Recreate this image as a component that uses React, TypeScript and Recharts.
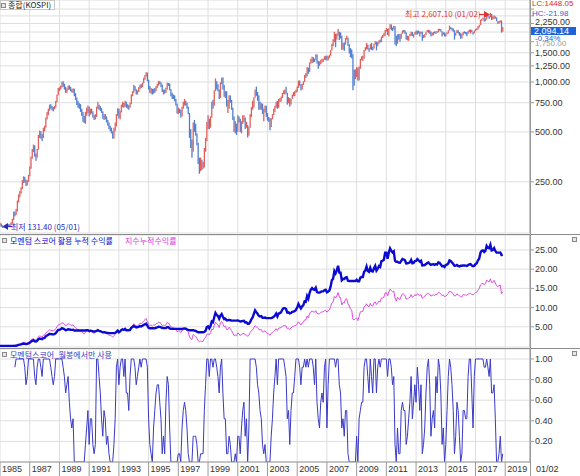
import { ComposedChart, Bar, Line, XAxis, YAxis, CartesianGrid } from "recharts";

const FONT = '"Noto Sans CJK KR", "Noto Sans", sans-serif';
const NUM_FONT = '"Liberation Sans", Arial, sans-serif';
const GRID = "#dedede";
const AXIS = "#9a9a9a";
const UP = "#e2605c";
const DOWN = "#4f7fd2";
const NAVY = "#0a0ad0";
const PINK = "#e04ce0";
const SCORE = "#3a3ac8";

// monthly KOSPI candles, 1985-01 .. 2018-11
const kospiClose = [
  139, 136, 134, 133, 136, 137, 138, 136, 138, 141, 148, 163,
  160, 168, 190, 205, 215, 228, 250, 262, 255, 240, 252, 273,
  305, 350, 385, 410, 365, 355, 390, 470, 495, 480, 465, 525,
  535, 605, 640, 680, 720, 705, 700, 690, 705, 760, 835, 907,
  915, 935, 990, 965, 930, 880, 905, 940, 930, 905, 890, 909,
  830, 800, 750, 730, 720, 680, 650, 620, 570, 640, 680, 696,
  640, 670, 660, 625, 600, 620, 700, 730, 700, 690, 660, 610,
  620, 610, 580, 560, 530, 525, 500, 459, 520, 550, 630, 678,
  620, 660, 720, 740, 720, 760, 710, 720, 710, 740, 830, 866,
  940, 900, 860, 880, 920, 960, 940, 980, 1040, 1090, 1138, 1027,
  930, 880, 900, 855, 900, 890, 940, 960, 1000, 990, 960, 882,
  890, 870, 910, 980, 975, 905, 840, 820, 810, 780, 730, 651,
  680, 670, 630, 700, 740, 760, 740, 700, 650, 470, 410, 376,
  560, 520, 480, 420, 330, 297, 320, 310, 310, 400, 450, 562,
  590, 540, 620, 750, 720, 880, 1000, 940, 900, 800, 970, 1028,
  940, 830, 860, 730, 730, 820, 760, 690, 610, 520, 540, 504,
  610, 580, 520, 570, 590, 600, 540, 545, 480, 530, 630, 693,
  720, 800, 880, 840, 800, 740, 720, 730, 650, 660, 700, 627,
  590, 575, 535, 600, 630, 670, 710, 760, 700, 780, 790, 810,
  850, 880, 880, 860, 770, 785, 735, 790, 835, 845, 870, 896,
  930, 1010, 960, 910, 970, 1000, 1090, 1080, 1220, 1160, 1300, 1379,
  1400, 1370, 1360, 1420, 1320, 1300, 1300, 1350, 1370, 1370, 1420, 1434,
  1360, 1420, 1450, 1550, 1700, 1740, 1930, 1870, 1950, 2065, 1900, 1897,
  1620, 1710, 1700, 1830, 1850, 1670, 1590, 1470, 1450, 1110, 1080, 1124,
  1160, 1060, 1210, 1370, 1390, 1390, 1560, 1590, 1670, 1580, 1560, 1682,
  1600, 1590, 1690, 1740, 1640, 1700, 1760, 1740, 1870, 1880, 1900, 2051,
  2070, 1940, 2100, 2190, 2140, 2100, 2130, 1880, 1770, 1910, 1850, 1826,
  1950, 2030, 2010, 1980, 1840, 1850, 1880, 1910, 2000, 1910, 1930, 1997,
  1960, 2030, 2000, 1960, 2000, 1860, 1910, 1930, 2000, 2030, 2045, 2011,
  1940, 1980, 1985, 1960, 2017, 2002, 2076, 2068, 2020, 1964, 1981, 1916,
  1949, 1985, 2041, 2127, 2114, 2074, 2030, 1941, 1963, 2029, 1991, 1961,
  1912, 1917, 1996, 1994, 1983, 1970, 2016, 2034, 2043, 2008, 1983, 2026,
  2067, 2091, 2160, 2205, 2347, 2392, 2402, 2363, 2394, 2523, 2476, 2467,
  2566, 2427, 2445, 2515, 2423, 2326, 2295, 2322, 2343, 2029, 2094.14,
];

const kospiHigh = [
  142, 140, 137, 136, 138, 139, 140, 139, 140, 143, 150, 165,
  166, 172, 193, 210, 220, 232, 256, 270, 268, 258, 256, 276,
  310, 355, 395, 420, 415, 370, 395, 480, 510, 505, 485, 530,
  545, 610, 660, 690, 730, 735, 715, 705, 715, 770, 840, 920,
  930, 950, 1005, 1007, 975, 935, 915, 950, 955, 935, 905, 915,
  910, 855, 805, 770, 745, 735, 690, 660, 625, 660, 700, 720,
  710, 690, 690, 665, 630, 640, 710, 760, 730, 715, 695, 665,
  640, 640, 620, 590, 570, 545, 530, 505, 530, 570, 640, 695,
  690, 670, 730, 760, 750, 770, 760, 735, 725, 750, 840, 880,
  960, 945, 905, 890, 930, 965, 970, 990, 1060, 1100, 1145, 1140,
  1030, 945, 920, 910, 910, 920, 945, 975, 1016, 1010, 995, 965,
  900, 900, 925, 990, 985, 980, 905, 860, 840, 830, 790, 740,
  700, 690, 680, 710, 760, 790, 770, 750, 710, 650, 520, 450,
  570, 590, 560, 490, 430, 350, 350, 340, 330, 400, 460, 575,
  630, 600, 620, 760, 780, 890, 1050, 1010, 970, 900, 995, 1060,
  1066, 960, 880, 880, 780, 830, 830, 780, 700, 620, 580, 560,
  630, 620, 600, 580, 630, 630, 610, 575, 550, 535, 640, 705,
  770, 810, 900, 937, 870, 830, 760, 745, 740, 690, 720, 720,
  650, 615, 605, 605, 640, 690, 720, 760, 770, 790, 800, 815,
  860, 890, 900, 936, 860, 810, 800, 790, 840, 870, 880, 900,
  940, 1020, 1020, 970, 975, 1010, 1100, 1130, 1230, 1220, 1310, 1380,
  1420, 1410, 1380, 1467, 1465, 1340, 1330, 1360, 1380, 1380, 1430, 1440,
  1440, 1430, 1460, 1560, 1700, 1810, 2005, 1950, 1960, 2085, 2010, 1990,
  1900, 1720, 1730, 1840, 1900, 1850, 1690, 1600, 1570, 1470, 1190, 1190,
  1230, 1220, 1240, 1380, 1430, 1440, 1560, 1620, 1720, 1680, 1600, 1690,
  1720, 1630, 1700, 1760, 1750, 1740, 1780, 1800, 1880, 1920, 1970, 2055,
  2110, 2090, 2110, 2231, 2220, 2130, 2180, 2170, 1900, 1940, 1950, 1940,
  1960, 2040, 2060, 2050, 1990, 1900, 1890, 1950, 2010, 2000, 1940, 2000,
  2040, 2040, 2040, 2010, 2010, 2010, 1920, 1940, 2010, 2060, 2060, 2050,
  2010, 1980, 2000, 2020, 2020, 2020, 2090, 2090, 2080, 2020, 1990, 1990,
  1960, 1990, 2050, 2190, 2140, 2120, 2100, 2050, 1980, 2060, 2050, 2000,
  1970, 1950, 2000, 2020, 2000, 2000, 2030, 2070, 2070, 2060, 2000, 2040,
  2090, 2100, 2170, 2210, 2370, 2400, 2450, 2420, 2420, 2530, 2560, 2490,
  2607.1, 2570, 2490, 2520, 2480, 2450, 2320, 2330, 2350, 2345, 2140,
];

const kospiLow = [
  136, 134, 132, 132, 131.4, 134, 135, 134, 135, 137, 140, 147,
  155, 158, 166, 188, 202, 212, 226, 246, 248, 236, 238, 250,
  270, 300, 345, 378, 355, 335, 350, 390, 460, 455, 440, 460,
  505, 530, 595, 630, 670, 690, 675, 665, 685, 700, 755, 830,
  880, 900, 925, 935, 900, 860, 860, 895, 900, 880, 865, 860,
  820, 780, 725, 700, 690, 660, 625, 575, 566, 560, 625, 650,
  620, 635, 645, 610, 590, 595, 615, 690, 680, 670, 650, 600,
  590, 595, 570, 545, 520, 505, 490, 456, 455, 505, 540, 625,
  605, 595, 655, 705, 700, 710, 700, 690, 680, 700, 735, 820,
  860, 885, 840, 840, 870, 905, 920, 930, 980, 1030, 1080, 1010,
  900, 860, 850, 840, 850, 860, 880, 920, 950, 970, 930, 870,
  840, 850, 860, 900, 945, 890, 820, 790, 790, 765, 720, 645,
  640, 650, 610, 620, 690, 720, 720, 690, 640, 460, 400, 350,
  380, 500, 475, 415, 320, 280, 290, 295, 300, 305, 380, 440,
  520, 520, 530, 610, 690, 720, 880, 900, 880, 790, 800, 970,
  900, 815, 800, 710, 650, 690, 750, 680, 590, 500, 490, 480,
  500, 570, 500, 490, 560, 575, 520, 530, 463, 475, 530, 615,
  680, 700, 805, 825, 770, 680, 680, 680, 640, 580, 655, 615,
  585, 575, 512, 535, 595, 630, 660, 700, 690, 700, 760, 760,
  800, 845, 840, 850, 730, 745, 710, 730, 790, 820, 820, 860,
  870, 920, 950, 890, 900, 960, 1000, 1060, 1080, 1120, 1150, 1290,
  1300, 1310, 1320, 1360, 1290, 1200, 1250, 1280, 1310, 1320, 1360, 1350,
  1350, 1350, 1390, 1440, 1550, 1640, 1740, 1620, 1800, 1900, 1790, 1830,
  1560, 1570, 1540, 1680, 1800, 1650, 1490, 1410, 1390, 892, 950, 1040,
  1070, 1020, 1020, 1200, 1350, 1340, 1380, 1540, 1570, 1570, 1520, 1570,
  1560, 1550, 1590, 1680, 1550, 1640, 1700, 1730, 1740, 1840, 1880, 1900,
  2010, 1920, 1880, 2090, 2050, 2030, 2070, 1680, 1644, 1700, 1800, 1750,
  1820, 1950, 1990, 1950, 1800, 1780, 1770, 1880, 1900, 1890, 1850, 1930,
  1930, 1930, 1960, 1880, 1950, 1770, 1840, 1850, 1920, 2000, 1980, 1950,
  1880, 1900, 1910, 1960, 1950, 1980, 1990, 2040, 2010, 1880, 1930, 1880,
  1880, 1940, 1960, 2040, 2080, 2040, 2010, 1800, 1900, 1970, 1960, 1900,
  1820, 1830, 1910, 1960, 1940, 1890, 1950, 2000, 1960, 2000, 1930, 1970,
  2020, 2050, 2070, 2130, 2200, 2330, 2380, 2310, 2320, 2380, 2470, 2400,
  2450, 2360, 2380, 2400, 2410, 2320, 2240, 2250, 2280, 1985, 2010,
];

// 모멘텀 스코어 활용 누적 수익률
const strategyReturn = [
  0, 0, 0, 0, 0, 0, 0, 0, 0, 0, 0, 0,
  0, 0.05, 0.18, 0.28, 0.34, 0.42, 0.56, 0.63, 0.59, 0.5, 0.56, 0.66,
  0.86, 1.13, 1.35, 1.5, 1.22, 1.17, 1.34, 1.78, 1.92, 1.84, 1.75, 2.05,
  2.11, 2.51, 2.72, 2.95, 3.18, 3.1, 3.07, 3.02, 3.09, 3.35, 3.78, 4.2,
  4.24, 4.36, 4.67, 4.53, 4.35, 4.11, 4.21, 4.36, 4.31, 4.23, 4.19, 4.23,
  4.04, 4.04, 4.04, 4.04, 4.04, 4.04, 4.04, 4.04, 4.04, 4.04, 4.09, 4.13,
  3.93, 3.96, 3.93, 3.82, 3.79, 3.8, 3.91, 4.12, 3.91, 3.85, 3.71, 3.56,
  3.58, 3.54, 3.45, 3.42, 3.36, 3.36, 3.36, 3.36, 3.36, 3.4, 3.67, 4.0,
  3.57, 3.79, 4.19, 4.34, 4.2, 4.44, 4.08, 4.13, 4.08, 4.18, 4.71, 4.96,
  5.2, 5.0, 4.8, 4.9, 5.0, 5.2, 5.1, 5.3, 5.5, 5.6, 5.8, 5.3,
  4.75, 4.62, 4.64, 4.62, 4.62, 4.6, 4.76, 4.84, 5.02, 4.98, 4.88, 4.68,
  4.68, 4.65, 4.67, 4.92, 4.9, 4.58, 4.45, 4.45, 4.45, 4.45, 4.45, 4.45,
  4.45, 4.44, 4.41, 4.41, 4.51, 4.58, 4.5, 4.35, 4.22, 4.1, 4.1, 4.1,
  4.1, 4.01, 3.91, 3.76, 3.59, 3.59, 3.59, 3.58, 3.58, 3.69, 3.98, 4.91,
  5.1, 4.6, 5.2, 6.4, 6.2, 7.5, 8.6, 8.1, 7.8, 7.1, 7.9, 8.3,
  7.6, 7.0, 7.1, 6.7, 6.7, 6.8, 6.7, 6.6, 6.6, 6.6, 6.6, 6.6,
  6.66, 6.57, 6.38, 6.43, 6.52, 6.58, 6.14, 6.17, 5.81, 5.81, 6.23, 6.95,
  7.41, 8.35, 9.28, 8.82, 8.39, 7.86, 7.69, 7.76, 7.35, 7.37, 7.41, 7.26,
  7.26, 7.26, 7.26, 7.26, 7.37, 7.59, 7.93, 8.45, 7.7, 8.45, 8.57, 8.81,
  9.48, 9.86, 9.86, 9.63, 8.7, 8.78, 8.47, 8.59, 8.87, 8.94, 9.14, 9.4,
  9.99, 10.93, 10.33, 9.8, 10.33, 10.66, 11.62, 11.51, 13.01, 12.33, 13.81, 14.71,
  15.09, 14.75, 14.65, 15.17, 14.03, 13.89, 13.89, 14.09, 14.21, 14.21, 14.53, 14.66,
  13.98, 14.2, 14.44, 15.5, 17.09, 17.51, 19.53, 18.89, 19.68, 20.9, 19.14, 19.12,
  17.15, 17.48, 17.43, 17.79, 17.89, 16.98, 16.91, 16.91, 16.91, 16.91, 16.91, 16.91,
  17.22, 16.83, 16.83, 17.82, 17.95, 17.95, 19.3, 19.66, 20.69, 19.52, 19.3, 20.36,
  19.49, 19.38, 20.25, 20.88, 19.63, 20.14, 20.82, 20.57, 22.07, 22.19, 22.44, 24.28,
  24.3, 22.71, 24.32, 25.41, 24.81, 24.37, 24.64, 22.15, 21.92, 21.92, 21.69, 21.67,
  22.18, 22.65, 22.52, 22.34, 21.51, 21.54, 21.63, 21.79, 22.41, 21.54, 21.63, 22.09,
  22.16, 22.64, 22.32, 21.97, 22.21, 21.0, 21.04, 21.08, 21.34, 21.57, 21.73, 21.36,
  21.13, 21.24, 21.27, 21.12, 21.34, 21.2, 21.75, 21.67, 21.19, 20.78, 20.81, 20.58,
  21.11, 21.18, 21.49, 22.28, 22.14, 21.74, 21.38, 20.89, 20.91, 21.1, 20.86, 20.7,
  20.91, 20.91, 20.98, 20.97, 20.91, 20.84, 21.06, 21.23, 21.33, 20.95, 20.77, 20.92,
  21.29, 21.54, 22.29, 22.77, 24.3, 24.78, 24.9, 24.48, 24.78, 26.06, 25.56, 25.47,
  26.34, 24.86, 24.98, 25.49, 24.76, 24.32, 24.32, 24.32, 24.34, 23.7, 23.8,
];

// 지수누적수익률
const indexReturn = [
  0, 0, 0, 0, 0, 0, 0, 0, 0, 0, 0.1, 0.2,
  0.2, 0.2, 0.4, 0.5, 0.5, 0.6, 0.8, 0.9, 0.8, 0.7, 0.8, 1.0,
  1.2, 1.5, 1.8, 1.9, 1.6, 1.6, 1.8, 2.4, 2.6, 2.5, 2.3, 2.8,
  2.8, 3.4, 3.6, 3.9, 4.2, 4.1, 4.0, 4.0, 4.1, 4.5, 5.0, 5.5,
  5.6, 5.7, 6.1, 5.9, 5.7, 5.3, 5.5, 5.8, 5.7, 5.5, 5.4, 5.5,
  5.0, 4.8, 4.4, 4.3, 4.2, 3.9, 3.7, 3.5, 3.1, 3.6, 3.9, 4.0,
  3.6, 3.8, 3.7, 3.5, 3.3, 3.5, 4.0, 4.3, 4.0, 4.0, 3.7, 3.4,
  3.5, 3.4, 3.2, 3.0, 2.8, 2.8, 2.6, 2.3, 2.7, 3.0, 3.5, 3.9,
  3.5, 3.7, 4.2, 4.3, 4.2, 4.5, 4.1, 4.2, 4.1, 4.3, 5.0, 5.2,
  5.8, 5.5, 5.2, 5.3, 5.6, 5.9, 5.8, 6.1, 6.5, 6.8, 7.2, 6.4,
  5.7, 5.3, 5.5, 5.2, 5.5, 5.4, 5.8, 5.9, 6.2, 6.1, 5.9, 5.3,
  5.4, 5.3, 5.5, 6.1, 6.0, 5.5, 5.0, 4.9, 4.8, 4.6, 4.3, 3.7,
  3.9, 3.8, 3.5, 4.0, 4.3, 4.5, 4.3, 4.0, 3.7, 2.4, 1.9, 1.7,
  3.0, 2.7, 2.5, 2.0, 1.4, 1.1, 1.3, 1.2, 1.2, 1.9, 2.2, 3.0,
  3.2, 2.9, 3.5, 4.4, 4.2, 5.3, 6.2, 5.8, 5.5, 4.8, 6.0, 6.4,
  5.8, 5.0, 5.2, 4.3, 4.3, 4.9, 4.5, 4.0, 3.4, 2.7, 2.9, 2.6,
  3.4, 3.2, 2.7, 3.1, 3.2, 3.3, 2.9, 2.9, 2.5, 2.8, 3.5, 4.0,
  4.2, 4.8, 5.3, 5.0, 4.8, 4.3, 4.2, 4.3, 3.7, 3.7, 4.0, 3.5,
  3.2, 3.1, 2.8, 3.3, 3.5, 3.8, 4.1, 4.5, 4.0, 4.6, 4.7, 4.8,
  5.1, 5.3, 5.3, 5.2, 4.5, 4.6, 4.3, 4.7, 5.0, 5.1, 5.3, 5.4,
  5.7, 6.3, 5.9, 5.5, 6.0, 6.2, 6.8, 6.8, 7.8, 7.3, 8.4, 8.9,
  9.1, 8.9, 8.8, 9.2, 8.5, 8.4, 8.4, 8.7, 8.9, 8.9, 9.2, 9.3,
  8.8, 9.2, 9.4, 10.2, 11.2, 11.5, 12.9, 12.5, 13.0, 13.9, 12.7, 12.6,
  10.7, 11.3, 11.2, 12.2, 12.3, 11.0, 10.4, 9.6, 9.4, 7.0, 6.8, 7.1,
  7.3, 6.6, 7.7, 8.9, 9.0, 9.0, 10.2, 10.4, 11.0, 10.4, 10.2, 11.1,
  10.5, 10.4, 11.2, 11.5, 10.8, 11.2, 11.7, 11.5, 12.5, 12.5, 12.7, 13.8,
  13.9, 13.0, 14.1, 14.8, 14.4, 14.1, 14.3, 12.5, 11.7, 12.7, 12.3, 12.1,
  13.0, 13.6, 13.5, 13.2, 12.2, 12.3, 12.5, 12.7, 13.4, 12.7, 12.9, 13.4,
  13.1, 13.6, 13.4, 13.1, 13.4, 12.4, 12.7, 12.9, 13.4, 13.6, 13.7, 13.5,
  13.0, 13.2, 13.3, 13.1, 13.5, 13.4, 13.9, 13.9, 13.5, 13.1, 13.3, 12.8,
  13.0, 13.3, 13.7, 14.3, 14.2, 13.9, 13.6, 13.0, 13.1, 13.6, 13.3, 13.1,
  12.8, 12.8, 13.4, 13.3, 13.3, 13.2, 13.5, 13.6, 13.7, 13.4, 13.3, 13.6,
  13.9, 14.0, 14.5, 14.9, 15.9, 16.2, 16.3, 16.0, 16.2, 17.2, 16.8, 16.7,
  17.5, 16.5, 16.6, 17.1, 16.4, 15.7, 15.5, 15.7, 15.9, 13.6, 14.1,
];

// 모멘텀스코어 (first 12 months have no score)
const momentumScore = [
  null, null, null, null, null, null, null, null, null, null, null, null,
  0.92, 1, 1, 1, 1, 1, 1, 1, 0.92, 0.75, 0.83, 1,
  1, 1, 1, 1, 0.83, 0.75, 0.92, 1, 1, 0.92, 0.83, 1,
  1, 1, 1, 1, 1, 0.92, 0.83, 0.75, 0.83, 1, 1, 1,
  1, 1, 1, 0.92, 0.83, 0.67, 0.75, 0.83, 0.58, 0.42, 0.33, 0.42,
  0, 0, 0, 0, 0, 0, 0, 0, 0, 0.17, 0.33, 0.5,
  0.17, 0.42, 0.42, 0.17, 0.08, 0.17, 1, 1, 0.83, 0.67, 0.42, 0.25,
  0.5, 0.42, 0.17, 0.25, 0.08, 0, 0, 0, 0.17, 0.42, 0.92, 1,
  0.75, 0.92, 1, 1, 0.83, 1, 0.67, 0.67, 0.5, 0.83, 1, 1,
  1, 0.92, 0.75, 0.83, 0.92, 1, 0.92, 1, 1, 1, 1, 0.92,
  0.42, 0.17, 0.08, 0, 0.33, 0.5, 0.67, 0.75, 0.75, 0.58, 0.42, 0.08,
  0.25, 0.08, 0.58, 0.83, 0.75, 0.33, 0, 0, 0, 0, 0, 0,
  0.08, 0.08, 0, 0.33, 0.5, 0.58, 0.5, 0.33, 0.08, 0, 0, 0,
  0.25, 0.25, 0.25, 0.17, 0, 0, 0.08, 0.08, 0.08, 0.5, 0.75, 1,
  1, 0.83, 1, 1, 0.92, 1, 1, 0.92, 0.83, 0.67, 0.92, 1,
  0.67, 0.42, 0.42, 0.08, 0.08, 0.25, 0.17, 0, 0, 0, 0.08, 0,
  0.25, 0.25, 0.08, 0.33, 0.5, 0.58, 0.25, 0.42, 0, 0.33, 1, 1,
  1, 1, 1, 0.92, 0.75, 0.67, 0.5, 0.42, 0.17, 0.08, 0.17, 0,
  0, 0, 0, 0.25, 0.42, 0.67, 0.83, 1, 0.75, 1, 1, 1,
  1, 1, 0.92, 0.83, 0.42, 0.5, 0.17, 0.5, 0.67, 0.67, 0.83, 1,
  1, 1, 0.92, 0.75, 0.92, 0.92, 1, 0.92, 1, 0.92, 1, 1,
  1, 0.92, 0.75, 1, 0.58, 0.42, 0.33, 0.58, 0.67, 0.58, 0.92, 1,
  0.33, 0.75, 1, 1, 1, 1, 1, 0.92, 1, 1, 0.75, 0.67,
  0.33, 0.42, 0.25, 0.5, 0.5, 0.08, 0, 0, 0, 0, 0, 0,
  0.25, 0, 0.42, 0.5, 0.58, 0.58, 0.92, 1, 1, 0.83, 0.67, 1,
  0.83, 0.67, 1, 1, 0.67, 0.92, 1, 0.92, 1, 1, 1, 1,
  1, 0.83, 1, 1, 0.92, 0.75, 0.83, 0.17, 0, 0.33, 0.08, 0.08,
  0.5, 0.58, 0.5, 0.5, 0.17, 0.25, 0.42, 0.58, 0.83, 0.42, 0.58, 0.75,
  0.58, 0.92, 0.75, 0.5, 0.75, 0.08, 0.17, 0.33, 0.67, 0.92, 1, 0.75,
  0.25, 0.42, 0.5, 0.33, 0.83, 0.67, 1, 0.92, 0.67, 0.17, 0.33, 0,
  0.17, 0.5, 0.83, 1, 0.92, 0.75, 0.5, 0.08, 0.25, 0.58, 0.5, 0.25,
  0, 0.08, 0.5, 0.5, 0.42, 0.42, 0.83, 1, 1, 0.67, 0.33, 0.83,
  1, 1, 1, 1, 1, 1, 1, 0.92, 0.92, 1, 0.92, 0.83,
  1, 0.67, 0.67, 0.75, 0.42, 0, 0, 0.08, 0.25, 0, 0.08,
];

const yearTicks = [0, 24, 48, 72, 96, 120, 144, 168, 192, 216, 240, 264, 288, 312, 336, 360, 384, 408];
const yearLabels = ["1985", "1987", "1989", "1991", "1993", "1995", "1997", "1999", "2001", "2003", "2005", "2007", "2009", "2011", "2013", "2015", "2017", "2019"];
const priceTicks = [250, 500, 750, 1000, 1250, 1500, 1750, 2000, 2250, 2500, 2750];
// grid levels whose labels sit under the price markers in the right column
const coveredPriceTicks = [2000, 2500, 2750];
const returnTicks = [5, 10, 15, 20, 25];
const scoreTicks = [0.2, 0.4, 0.6, 0.8, 1];

const rows = kospiClose.map((close, i) => ({
  m: i,
  range: [kospiLow[i], kospiHigh[i]],
  up: i === 0 || close >= kospiClose[i - 1],
  strat: strategyReturn[i],
  idx: indexReturn[i],
  score: momentumScore[i],
}));

const fmt = (v: number) => v.toLocaleString("en-US", { minimumFractionDigits: 2, maximumFractionDigits: 2 });

function RightTick(props: any) {
  const { x, y, payload } = props;
  return (
    <text x={x - 1} y={y} dy={3} fontSize={9} fill="#333" fontFamily={NUM_FONT} textAnchor="start">
      {fmt(payload.value)}
    </text>
  );
}

function PriceTick(props: any) {
  const { x, y, payload } = props;
  if (coveredPriceTicks.includes(payload.value)) return null;
  // the two top labels are nudged so the price markers beside them stay readable
  const lift = payload.value === 2250 ? -2 : payload.value === 1750 ? 1.5 : 0;
  const faint = payload.value === 1750;
  return (
    <text
      x={x - 1}
      y={y + lift}
      dy={3}
      fontSize={faint ? 8 : 9}
      fill={faint ? "#9a9a9a" : "#333"}
      fontFamily={NUM_FONT}
      textAnchor="start"
    >
      {fmt(payload.value)}
    </text>
  );
}

function YearTick(props: any) {
  const { x, y, payload } = props;
  const label = yearLabels[yearTicks.indexOf(payload.value)];
  return (
    <g>
      <line x1={x} y1={y} x2={x} y2={y + 14} stroke={AXIS} />
      <text x={x + 2} y={y + 10} fontSize={9} fill="#333" fontFamily={NUM_FONT}>
        {label}
      </text>
    </g>
  );
}

function Candle(props: any) {
  const { x, y, height, payload } = props;
  if (y == null || isNaN(y)) return null;
  return <rect x={x} y={y} width={1.3} height={Math.max(height, 1)} fill={payload.up ? UP : DOWN} />;
}

function Icon({ left, top }: { left: number; top: number }) {
  return (
    <div
      style={{
        position: "absolute",
        left,
        top,
        width: 3,
        height: 3,
        border: "1px solid #8a8a8a",
        background: "#e6e6e6",
      }}
    />
  );
}

const xProps = {
  type: "number" as const,
  dataKey: "m",
  domain: [0, 428],
  ticks: yearTicks,
  allowDataOverflow: true,
};

const yProps = {
  orientation: "right" as const,
  width: 50,
  tickSize: 4,
  interval: 0 as const,
  axisLine: { stroke: AXIS },
  tickLine: { stroke: AXIS },
  tick: RightTick,
  allowDataOverflow: true,
};

const abs = (left: number, top: number, extra: any = {}) => ({
  position: "absolute" as const,
  left,
  top,
  whiteSpace: "nowrap" as const,
  lineHeight: "10px",
  ...extra,
});

export default function App() {
  return (
    <div
      style={{
        position: "fixed",
        left: 0,
        top: 0,
        width: 580,
        height: 476,
        background: "#fff",
        overflow: "hidden",
        fontFamily: FONT,
      }}
    >
      <div style={{ position: "absolute", left: 0, top: 0 }}>
        <ComposedChart width={580} height={234} data={rows} margin={{ top: 0, right: 0, bottom: 1, left: 0 }}>
          <CartesianGrid stroke={GRID} />
          <XAxis {...xProps} hide />
          <YAxis {...yProps} tick={PriceTick} scale="log" domain={[123, 3118]} ticks={priceTicks} />
          <Bar dataKey="range" barSize={1.3} shape={Candle} isAnimationActive={false} />
        </ComposedChart>
      </div>

      <div style={{ position: "absolute", left: 0, top: 234 }}>
        <ComposedChart width={580} height={114} data={rows} margin={{ top: 1, right: 0, bottom: 1, left: 0 }}>
          <CartesianGrid stroke={GRID} />
          <XAxis {...xProps} hide />
          <YAxis {...yProps} domain={[-0.26, 28.9]} ticks={returnTicks} />
          <Line dataKey="idx" stroke={PINK} strokeWidth={1} dot={false} isAnimationActive={false} />
          <Line dataKey="strat" stroke={NAVY} strokeWidth={2.4} dot={false} isAnimationActive={false} />
        </ComposedChart>
      </div>

      <div style={{ position: "absolute", left: 0, top: 348 }}>
        <ComposedChart width={580} height={128} data={rows} margin={{ top: 1, right: 0, bottom: 0, left: 0 }}>
          <CartesianGrid stroke={GRID} />
          <XAxis
            {...xProps}
            height={14}
            interval={0}
            tickSize={0}
            tickMargin={0}
            axisLine={{ stroke: AXIS }}
            tickLine={false}
            tick={YearTick}
          />
          <YAxis {...yProps} domain={[0, 1.097]} ticks={scoreTicks} />
          <Line dataKey="score" stroke={SCORE} strokeWidth={1} dot={false} connectNulls={false} isAnimationActive={false} />
        </ComposedChart>
      </div>

      {/* panel separators and right axis */}
      <div style={{ position: "absolute", left: 0, top: 234, width: 580, height: 1, background: "#8c8c8c" }} />
      <div style={{ position: "absolute", left: 0, top: 348, width: 580, height: 1, background: "#8c8c8c" }} />
      <div style={{ position: "absolute", left: 530, top: 0, width: 1, height: 476, background: AXIS }} />

      {/* top panel texts */}
      <div
        style={abs(0, 0, {
          width: 55,
          height: 10,
          border: "1px solid #c8c8c8",
          background: "#fff",
          fontSize: 8,
          color: "#222",
          boxSizing: "border-box",
        })}
      >
        <span style={{ position: "absolute", left: 7, top: -1 }}>종합(KOSPI)</span>
      </div>
      <Icon left={1} top={3} />

      <div style={abs(405, 9, { fontSize: 8, color: "#e03434" })}>최고 2,607.10 (01/02)</div>
      <svg style={{ position: "absolute", left: 479, top: 10 }} width={11} height={9}>
        <line x1={0} y1={4.5} x2={6} y2={4.5} stroke="#e03434" strokeWidth={1.2} />
        <polygon points="5,1 11,4.5 5,8" fill="#e03434" />
      </svg>

      <svg style={{ position: "absolute", left: 3, top: 222 }} width={9} height={9}>
        <polygon points="0,4.5 5,1 5,8" fill="#2a2ab8" />
        <line x1={4} y1={4.5} x2={9} y2={4.5} stroke="#2a2ab8" strokeWidth={1.2} />
      </svg>
      <div style={abs(11, 221.5, { fontSize: 8, color: "#2a2ab8" })}>최저 131.40 (05/01)</div>

      {/* right column markers */}
      <div style={abs(532, 0, { fontSize: 8, fontFamily: NUM_FONT, color: "#e02828", lineHeight: "8px" })}>LC:1448.05</div>
      <div style={abs(532, 9.5, { fontSize: 8, fontFamily: NUM_FONT, color: "#2f5fc8", lineHeight: "7px" })}>HC:-21.98</div>
      <div
        style={abs(531, 26.5, {
          width: 45,
          height: 8.5,
          lineHeight: "8.5px",
          background: "#1c64d8",
          color: "#fff",
          fontSize: 9,
          fontFamily: NUM_FONT,
          paddingLeft: 3,
          boxSizing: "border-box",
        })}
      >
        2,094.14
      </div>
      <div style={abs(535, 35.5, { fontSize: 8, fontFamily: NUM_FONT, color: "#2f5fc8", lineHeight: "6px" })}>-0.34%</div>

      {/* middle legend */}
      <Icon left={2} top={238} />
      <div style={abs(10, 235.5, { fontSize: 8, color: NAVY })}>모멘텀 스코어 활용 누적 수익률</div>
      <div style={abs(125, 235.5, { fontSize: 8, color: "#e030e0" })}>지수누적수익률</div>
      <Icon left={572} top={237} />

      {/* bottom legend */}
      <Icon left={2} top={352} />
      <div style={abs(10, 349.5, { fontSize: 8, color: SCORE })}>모멘텀스코어_월봉에서만 사용</div>
      <Icon left={572} top={351} />

      <div style={abs(536, 464, { fontSize: 9, fontFamily: NUM_FONT, color: "#333" })}>01/02</div>
    </div>
  );
}
